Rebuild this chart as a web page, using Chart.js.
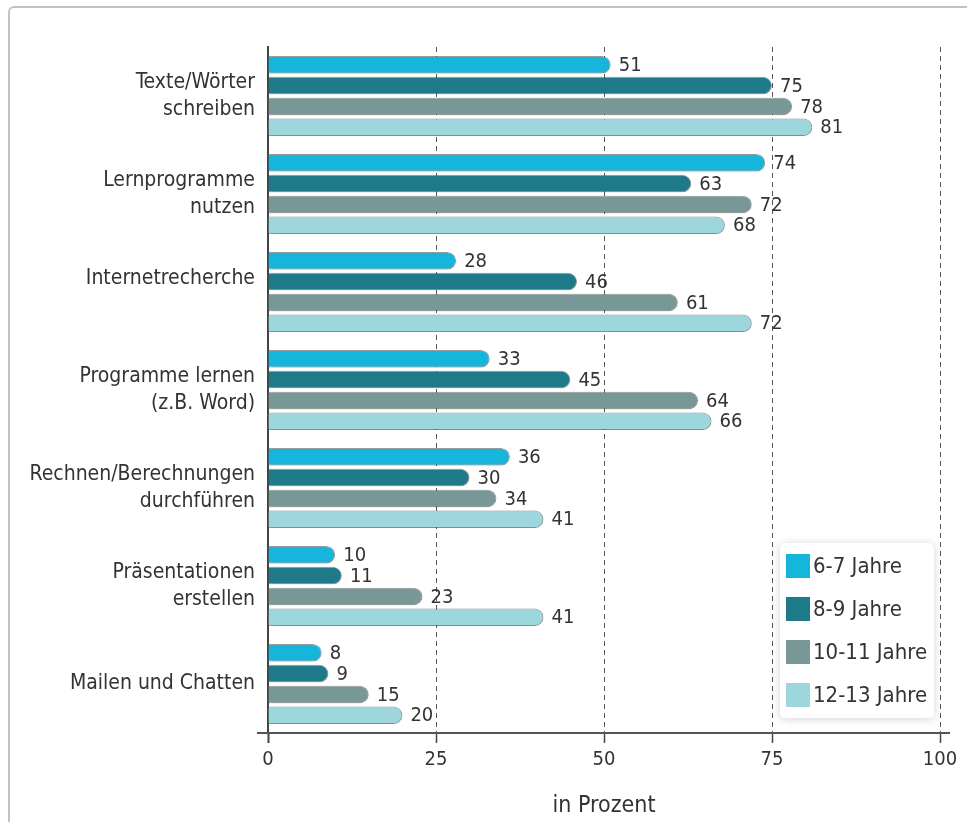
<!DOCTYPE html>
<html lang="de">
<head>
<meta charset="utf-8">
<title>Computernutzung nach Altersgruppen</title>
<script src="https://cdn.jsdelivr.net/npm/chart.js@4.4.1/dist/chart.umd.min.js"></script>
<style>
  html, body { margin: 0; padding: 0; background: #ffffff; overflow: hidden; }
  #wrap { position: relative; width: 967px; height: 822px; }
  #frame {
    position: absolute; left: 8px; top: 6px; width: 1100px; height: 1100px;
    border: 2px solid #c2c2c2; border-radius: 6px; box-sizing: border-box;
  }
  #chart { position: absolute; left: 0; top: 0; }
</style>
</head>
<body>
<div id="wrap">
  <div id="frame"></div>
  <canvas id="chart" width="967" height="822"></canvas>
</div>
<script>
// Activities (multi-line labels are arrays)
const categories = [
  ['Texte/Wörter', 'schreiben'],
  ['Lernprogramme', 'nutzen'],
  ['Internetrecherche', ''],
  ['Programme lernen', '(z.B. Word)'],
  ['Rechnen/Berechnungen', 'durchführen'],
  ['Präsentationen', 'erstellen'],
  'Mailen und Chatten'
];

// Share of children per age group, in percent
const age6to7   = [51, 74, 28, 33, 36, 10, 8];
const age8to9   = [75, 63, 46, 45, 30, 11, 9];
const age10to11 = [78, 72, 61, 64, 34, 23, 15];
const age12to13 = [81, 68, 72, 66, 41, 41, 20];

const seriesNames  = ['6-7 Jahre', '8-9 Jahre', '10-11 Jahre', '12-13 Jahre'];
const seriesColors = ['#15b5dc', '#1e7a88', '#789898', '#9dd6dc'];

const xTicks = [0, 25, 50, 75, 100];
const xTitle = 'in Prozent';

const FONT = "'DejaVu Sans Condensed', 'DejaVu Sans', sans-serif";
const TEXT = '#333333';

const seriesValues = [age6to7, age8to9, age10to11, age12to13];

const datasets = seriesValues.map((vals, i) => ({
  label: seriesNames[i],
  data: vals,
  backgroundColor: seriesColors[i],
  borderColor: 'rgba(85,95,100,0.55)',
  borderWidth: 1,
  borderSkipped: 'start',
  borderRadius: { topRight: 9, bottomRight: 9, topLeft: 0, bottomLeft: 0 },
  categoryPercentage: 0.85,
  barPercentage: 0.84
}));

// Axis line and a soft shadow under the bars
const barShadow = {
  id: 'barShadow',
  beforeDatasetsDraw(chart) {
    const ctx = chart.ctx;
    const a = chart.chartArea;
    ctx.save();
    ctx.strokeStyle = '#555555';
    ctx.lineWidth = 2;
    ctx.beginPath();
    ctx.moveTo(a.left - 11, a.bottom);
    ctx.lineTo(a.right + 10, a.bottom);
    ctx.stroke();
    ctx.restore();

    ctx.save();
    ctx.shadowColor = 'rgba(0,0,0,0.25)';
    ctx.shadowBlur = 7;
    ctx.shadowOffsetX = 1;
    ctx.shadowOffsetY = 2;
  },
  afterDatasetsDraw(chart) {
    chart.ctx.restore();
  }
};

// Value written after the end of every bar
const valueLabels = {
  id: 'valueLabels',
  afterDatasetsDraw(chart) {
    const ctx = chart.ctx;
    ctx.save();
    ctx.font = '20px ' + FONT;
    ctx.fillStyle = TEXT;
    ctx.textAlign = 'left';
    ctx.textBaseline = 'middle';
    chart.data.datasets.forEach((ds, di) => {
      const meta = chart.getDatasetMeta(di);
      meta.data.forEach((el, i) => {
        ctx.fillText(String(ds.data[i]), el.x + 8, el.y + 1);
      });
    });
    ctx.restore();
  }
};

// Boxed legend inside the plot, lower right
const boxLegend = {
  id: 'boxLegend',
  afterDraw(chart) {
    const ctx = chart.ctx;
    const x = 780, y = 543, w = 154, h = 175, r = 5;
    ctx.save();
    ctx.shadowColor = 'rgba(0,0,0,0.18)';
    ctx.shadowBlur = 10;
    ctx.shadowOffsetY = 1;
    ctx.fillStyle = '#ffffff';
    ctx.beginPath();
    ctx.roundRect(x, y, w, h, r);
    ctx.fill();
    ctx.restore();

    ctx.save();
    ctx.font = '22px ' + FONT;
    ctx.textBaseline = 'middle';
    chart.data.datasets.forEach((ds, i) => {
      const sy = y + 11 + i * 43;
      ctx.fillStyle = ds.backgroundColor;
      ctx.fillRect(x + 6, sy, 24, 24);
      ctx.fillStyle = TEXT;
      ctx.fillText(ds.label, x + 33, sy + 13);
    });
    ctx.restore();
  }
};

new Chart(document.getElementById('chart'), {
  type: 'bar',
  data: { labels: categories, datasets },
  options: {
    indexAxis: 'y',
    responsive: false,
    animation: false,
    layout: { padding: { top: 47, right: 27, bottom: 0, left: 0 } },
    plugins: {
      legend: { display: false },
      tooltip: { enabled: false }
    },
    scales: {
      x: {
        type: 'linear',
        min: 0,
        max: 100,
        afterBuildTicks: s => { s.ticks = xTicks.map(v => ({ value: v })); },
        afterFit: s => { s.height = 89; },
        border: { display: false, dash: [5, 4] },
        grid: {
          display: true,
          drawOnChartArea: true,
          drawTicks: true,
          color: c => (c.tick && c.tick.value === 0) ? 'rgba(0,0,0,0)' : '#555555',
          lineWidth: 1,
          tickBorderDash: [],
          tickColor: '#444444',
          tickWidth: c => (c.tick && c.tick.value === 0) ? 2 : 1.5,
          tickLength: 10
        },
        ticks: {
          color: TEXT,
          font: { family: FONT, size: 20 },
          padding: 5,
          maxRotation: 0
        },
        title: {
          display: true,
          text: xTitle,
          color: TEXT,
          font: { family: FONT, size: 23 },
          padding: { top: 4, bottom: 2 }
        }
      },
      y: {
        afterFit: s => { s.width = 268; },
        border: { display: true, color: '#444444', width: 2 },
        grid: { display: false, drawTicks: false },
        ticks: {
          color: TEXT,
          font: { family: FONT, size: 21, lineHeight: 1.29 },
          padding: 13,
          crossAlign: 'near'
        }
      }
    }
  },
  plugins: [barShadow, valueLabels, boxLegend]
});
</script>
</body>
</html>
